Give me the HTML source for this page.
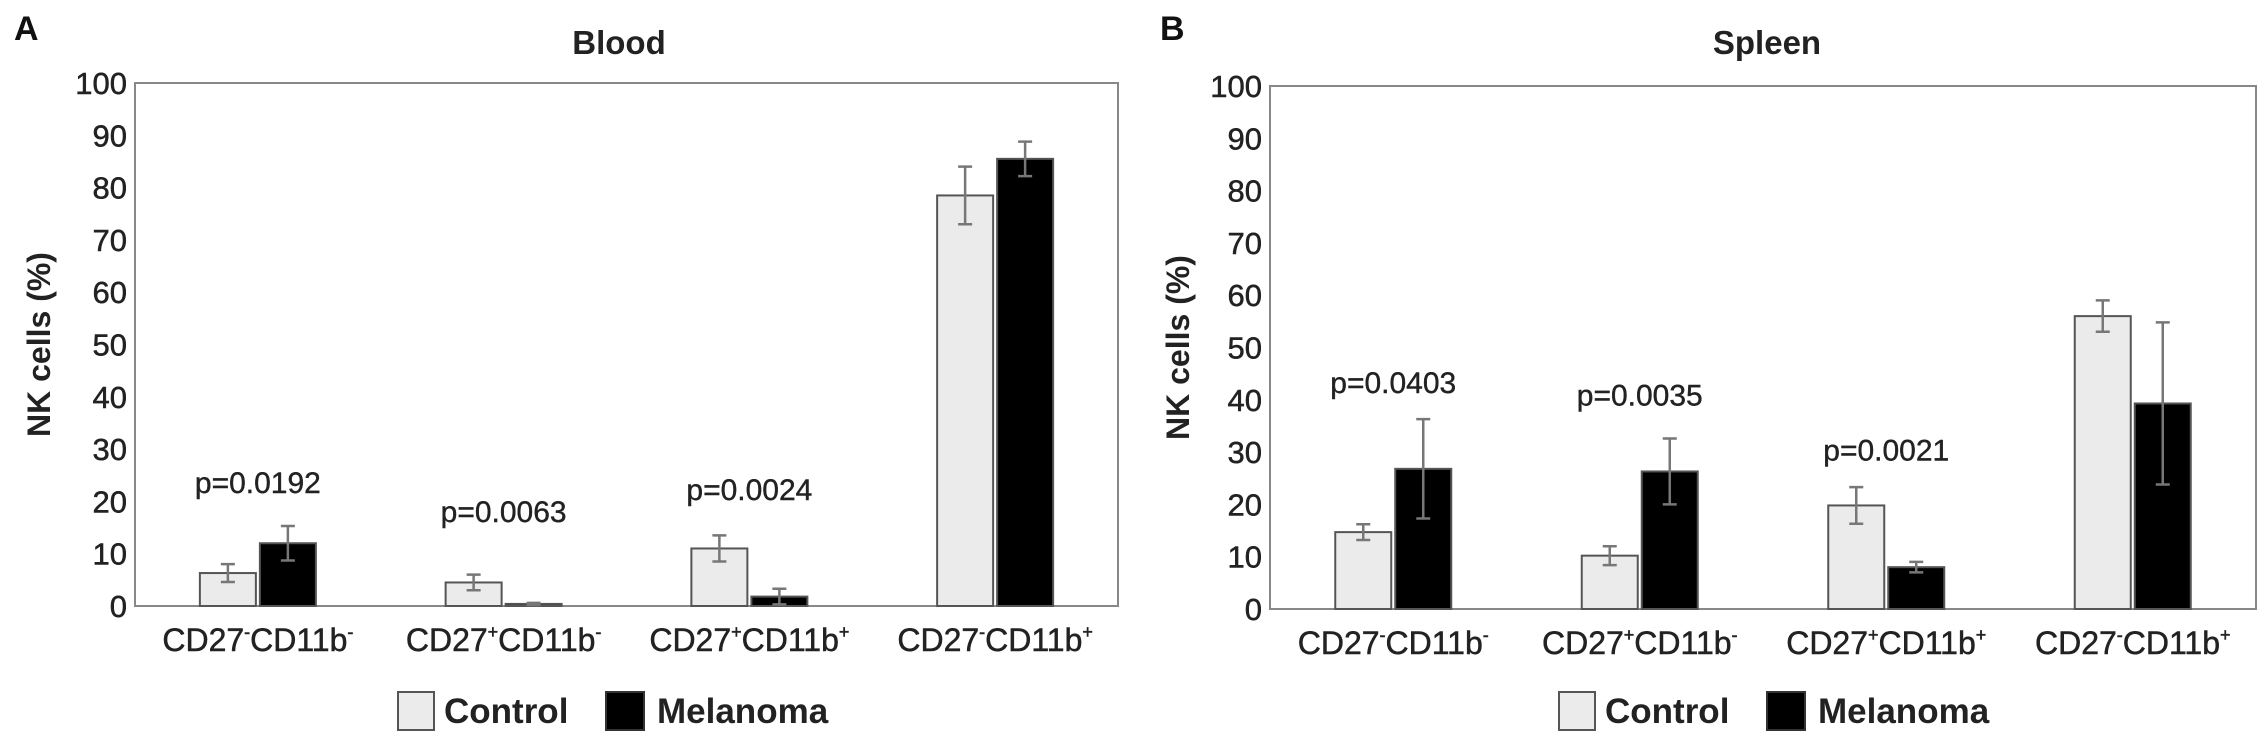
<!DOCTYPE html>
<html><head><meta charset="utf-8"><style>
html,body{margin:0;padding:0;background:#fff}
svg{display:block;font-family:"Liberation Sans",Arial,sans-serif}
</style></head><body>
<svg id="chart" width="2268" height="744" viewBox="0 0 2268 744"></svg>
<script>
const categories = ["CD27-CD11b-", "CD27+CD11b-", "CD27+CD11b+", "CD27-CD11b+"];
const catSup1 = ["-", "+", "+", "-"];
const catSup2 = ["-", "-", "+", "+"];
const yTicks = [0,10,20,30,40,50,60,70,80,90,100];
const bloodControl = [6.3, 4.5, 11, 78.5];
const bloodControlErr = [1.7, 1.5, 2.5, 5.5];
const bloodMelanoma = [12, 0.4, 1.8, 85.5];
const bloodMelanomaErr = [3.3, 0.2, 1.5, 3.3];
const bloodP = ["p=0.0192", "p=0.0063", "p=0.0024", ""];
const bloodPY = [23.7, 18.2, 22.4, 0];
const spleenControl = [14.7, 10.2, 19.8, 56];
const spleenControlErr = [1.5, 1.8, 3.5, 3];
const spleenMelanoma = [26.8, 26.3, 8, 39.3];
const spleenMelanomaErr = [9.5, 6.3, 1, 15.5];
const spleenP = ["p=0.0403", "p=0.0035", "p=0.0021", ""];
const spleenPY = [43.4, 41, 30.5, 0];

const NS = "http://www.w3.org/2000/svg";
const svg = document.getElementById("chart");
function mk(tag, attrs, parent, text){
  const e = document.createElementNS(NS, tag);
  for (const k in attrs) e.setAttribute(k, attrs[k]);
  if (text !== undefined) e.textContent = text;
  (parent || svg).appendChild(e);
  return e;
}
function panel(opt){
  const g = mk("g", {});
  
  
  const L = opt.left, R = opt.right, T = opt.top, B = opt.bottom;
  const y = v => B - (v/100)*(B-T);
  const band = (R-L)/categories.length;
  const xc = i => L + band*(i+0.5);
  const lab = mk("text", {x:opt.labelX, y:40, "font-size":34, "font-weight":"bold", fill:"#111"}, g, opt.letter);
  
  
  const ti = mk("text", {x:opt.titleX, y:54, "font-size":33, "font-weight":"bold", "text-anchor":"middle", fill:"#222"}, g, opt.title);
  
  
  const fr = mk("rect", {x:L, y:T, width:R-L, height:B-T, fill:"#fff", stroke:"#888", "stroke-width":2}, g);
  
  
  yTicks.forEach(t => {
    const tx = mk("text", {x:L-8, y:y(t)+11, "font-size":31, "text-anchor":"end", fill:"#222", stroke:"#222", "stroke-width":0.5}, g, String(t));
    
    
  });
  const yt = mk("text", {x:opt.yTitleX, y:(T+B)/2, "font-size":32, "font-weight":"bold", "text-anchor":"middle", fill:"#222", transform:`rotate(-90 ${opt.yTitleX} ${(T+B)/2})`}, g, "NK cells (%)");
  
  
  const bw = 56, gap = 4;
  categories.forEach((c, i) => {
    const cx = xc(i);
    [[opt.ctrl[i], opt.ctrlErr[i], "#ebebeb", cx-gap/2-bw, "bar-control"],
     [opt.mel[i], opt.melErr[i], "#000", cx+gap/2, "bar-melanoma"]].forEach(b => {
      const r = mk("rect", {x:b[3], y:y(b[0]), width:bw, height:B-y(b[0]), fill:b[2], stroke:"#555", "stroke-width":2}, g);
      
      
      const mx = b[3]+bw/2;
      const eb = mk("path", {d:`M${mx},${y(b[0]+b[1])}V${y(b[0]-b[1])}M${mx-7},${y(b[0]+b[1])}H${mx+7}M${mx-7},${y(b[0]-b[1])}H${mx+7}`, stroke:"#777", "stroke-width":2.5, fill:"none"}, g);
      
      
    });
    const cl = mk("text", {x:cx, y:B+45, "font-size":32, "text-anchor":"middle", fill:"#222", stroke:"#222", "stroke-width":0.5}, g);
    
    
    mk("tspan", {}, cl, "CD27");
    mk("tspan", {"font-size":18, dy:-13}, cl, catSup1[i]);
    mk("tspan", {dy:13}, cl, "CD11b");
    mk("tspan", {"font-size":18, dy:-13}, cl, catSup2[i]);
    if (opt.p[i]) {
      const pt = mk("text", {x:cx, y:y(opt.pY[i])+11, "font-size":30, "text-anchor":"middle", fill:"#222", stroke:"#222", "stroke-width":0.4}, g, opt.p[i]);
      
      
    }
  });
  const lg = mk("g", {}, g);
  
  
  const lx = opt.legendX;
  const b1 = mk("rect", {x:lx, y:692, width:36, height:38, fill:"#ebebeb", stroke:"#555", "stroke-width":2}, lg);
  
  
  const t1 = mk("text", {x:lx+46, y:723, "font-size":35, "font-weight":"bold", fill:"#222"}, lg, "Control");
  
  
  const b2 = mk("rect", {x:lx+208, y:692, width:38, height:38, fill:"#000", stroke:"#333", "stroke-width":2}, lg);
  
  
  const t2 = mk("text", {x:lx+259, y:723, "font-size":35, "font-weight":"bold", fill:"#222"}, lg, "Melanoma");
  
  
}
panel({name:"blood-panel", letter:"A", labelX:14, title:"Blood", titleX:619, left:135, right:1118, top:83, bottom:606, yTitleX:50,
  ctrl:bloodControl, ctrlErr:bloodControlErr, mel:bloodMelanoma, melErr:bloodMelanomaErr, p:bloodP, pY:bloodPY, legendX:398});
panel({name:"spleen-panel", letter:"B", labelX:1160, title:"Spleen", titleX:1767, left:1270, right:2256, top:86, bottom:609, yTitleX:1189,
  ctrl:spleenControl, ctrlErr:spleenControlErr, mel:spleenMelanoma, melErr:spleenMelanomaErr, p:spleenP, pY:spleenPY, legendX:1559});
</script>
</body></html>
